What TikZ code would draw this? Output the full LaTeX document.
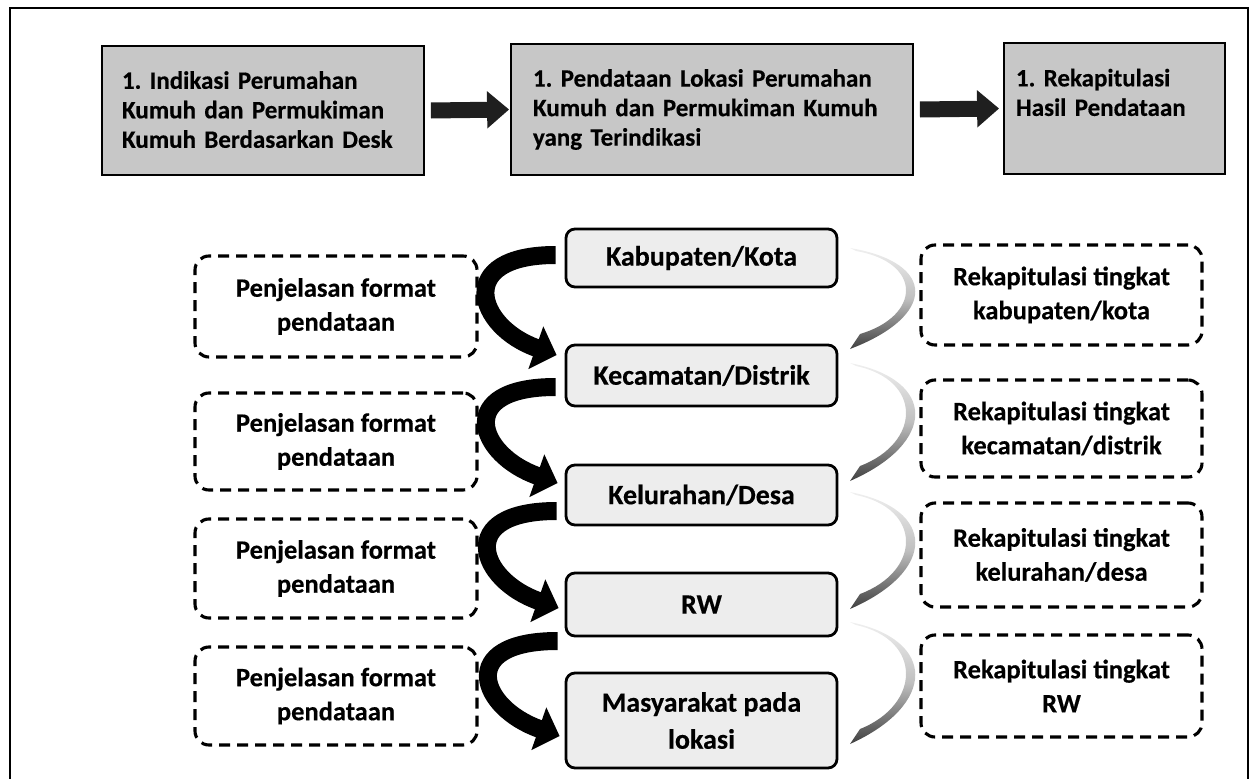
\documentclass[tikz,border=0pt]{standalone}
\usepackage{fontspec}
\setmainfont{Carlito}[BoldFeatures={FakeBold=0.4}]
\usetikzlibrary{arrows.meta,calc}
\frenchspacing
\newcommand{\grayarc}[2]{%
\shade[top color=black!6, bottom color=black!75, middle color=black!25]
 (850,#1) .. controls (937,{#1+0.15*(#2-#1)}) and (937,{#2-0.3*(#2-#1)}) .. (850,{#2+4})
 -- (860,{#2-11}) .. controls (921,{#2-0.3*(#2-#1)}) and (923,{#1+0.15*(#2-#1)}) .. (856,{#1+3}) -- cycle;}
\begin{document}
\frenchspacing
\begin{tikzpicture}[x=1pt,y=-1pt,
  topbox/.style={draw=black, line width=1.8pt, fill=black!22, align=left, inner ysep=0pt,
    font=\fontsize{25}{29.5}\selectfont\bfseries},
  midbox/.style={draw=black, line width=2.8pt, fill=black!7, rounded corners=9pt, align=center,
    minimum width=271, inner sep=0pt, font=\fontsize{28}{37}\selectfont\bfseries},
  dashbox/.style={draw=black, line width=3.1pt, dash pattern=on 11pt off 7pt, rounded corners=14pt,
    align=center, inner sep=0pt, font=\fontsize{26.5}{34}\selectfont\bfseries},
  blockarrow/.style={line width=16pt, draw=black!88, -{Triangle[length=22pt,width=36pt]}},
  curvearrow/.style={line width=18pt, draw=black, -{Triangle[length=22pt,width=44pt]}}]
\useasboundingbox (0,0) rectangle (1251,779);
\clip (0,0) rectangle (1251,779);
\draw[line width=2.2pt] (10,8) rectangle (1248,800);
% top row
\node[topbox, text width=282pt, inner xsep=20pt, minimum height=129] (b1) at (263,110.5)
  {\raisebox{2pt}{1. Indikasi Perumahan}\\\raisebox{2pt}{Kumuh dan Permukiman}\\\raisebox{2pt}{Kumuh Berdasarkan Desk}};
\node[topbox, text width=358pt, inner xsep=22pt, minimum height=131] (b2) at (712,109.5)
  {\raisebox{2pt}{1. Pendataan Lokasi Perumahan}\\\raisebox{2pt}{Kumuh dan Permukiman Kumuh}\\\raisebox{2pt}{yang Terindikasi}};
\node[topbox, text width=197pt, inner xsep=12pt, minimum height=131] (b3) at (1114.5,108.5)
  {1. Rekapitulasi\\Hasil Pendataan\\[-6pt]\strut};
\draw[blockarrow] ([xshift=6pt]b1.east) -- ([xshift=-1pt]b2.west);
\draw[blockarrow] ([xshift=6pt]b2.east) -- ([xshift=-4pt]b3.west);
% middle column
\node[midbox, minimum height=58] (kab) at (701.5,258) {\raisebox{-2pt}{Kabupaten/Kota}};
\node[midbox, minimum height=61] (kec) at (701.5,375.5) {\raisebox{-2pt}{Kecamatan/Distrik}};
\node[midbox, minimum height=60] (kel) at (701.5,495) {\raisebox{-2pt}{Kelurahan/Desa}};
\node[midbox, minimum height=63] (rw) at (701.5,604.5) {\raisebox{-2pt}{RW}};
\node[midbox, minimum height=95] (mas) at (701.5,720.5) {Masyarakat pada\\lokasi};
% left boxes
\node[dashbox, minimum width=282, minimum height=101] (l1) at (336,306.5) {Penjelasan format\\pendataan};
\node[dashbox, minimum width=282, minimum height=97] (l2) at (336,441.5) {Penjelasan format\\pendataan};
\node[dashbox, minimum width=282, minimum height=99] (l3) at (336,568.5) {Penjelasan format\\pendataan};
\node[dashbox, minimum width=282, minimum height=98] (l4) at (336,696) {Penjelasan format\\pendataan};
% right boxes
\node[dashbox, minimum width=281, minimum height=100] (r1) at (1061.5,295) {Rekapitulasi tingkat\\kabupaten/kota};
\node[dashbox, minimum width=281, minimum height=97] (r2) at (1061.5,428.5) {Rekapitulasi tingkat\\kecamatan/distrik};
\node[dashbox, minimum width=281, minimum height=104] (r3) at (1061.5,555) {Rekapitulasi tingkat\\kelurahan/desa};
\node[dashbox, minimum width=281, minimum height=102] (r4) at (1061.5,686) {Rekapitulasi tingkat\\RW};
% curved black arrows
\draw[curvearrow] ($(kab.west)+(-9,-3)$) .. controls ($(kab.west)+(-111,-3)$) and ($(kec.west)+(-88,-48.5)$) .. ($(kec.west)+(-8,-20.5)$);
\draw[curvearrow] ($(kec.west)+(-9,11.5)$) .. controls ($(kec.west)+(-111,11.5)$) and ($(kel.west)+(-87,-40)$) .. ($(kel.west)+(-7,-12)$);
\draw[curvearrow] ($(kel.west)+(-8,16)$) .. controls ($(kel.west)+(-110,16)$) and ($(rw.west)+(-86,-24.5)$) .. ($(rw.west)+(-6,3.5)$);
\draw[curvearrow] ($(rw.west)+(-7,36.5)$) .. controls ($(rw.west)+(-109,36.5)$) and ($(mas.west)+(-85,-12.5)$) .. ($(mas.west)+(-5,15.5)$);
% grey arcs
\grayarc{248}{345}
\grayarc{363}{477}
\grayarc{492}{605}
\grayarc{622}{740}
\end{tikzpicture}
\end{document}
